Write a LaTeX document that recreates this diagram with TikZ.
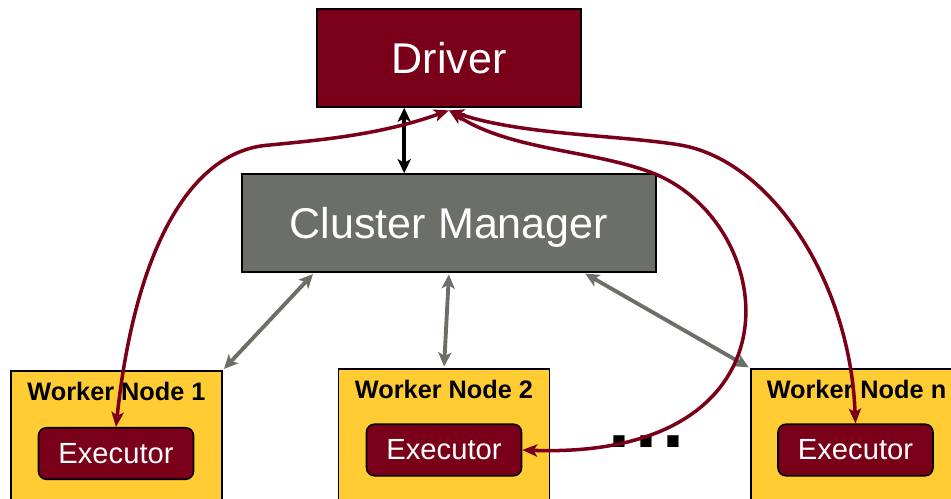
\documentclass[tikz,border=0pt]{standalone}
\usepackage{fontspec}
\setmainfont{Liberation Sans}
\usepackage{tikz}
\usetikzlibrary{arrows.meta,positioning}
\definecolor{umnmaroon}{HTML}{7A0019}
\definecolor{umngold}{HTML}{FFCC33}
\definecolor{slate}{HTML}{6A7067}
\pgfdeclarelayer{edgelayer}
\pgfdeclarelayer{nodelayer}
\pgfsetlayers{nodelayer,edgelayer,main}
\tikzstyle{driverbox}=[rectangle,fill=umnmaroon,draw=black,line width=0.9pt,text=white,font=\fontsize{24.5}{28}\selectfont,minimum width=5.28cm,minimum height=1.96cm]
\tikzstyle{managerbox}=[rectangle,fill=slate,draw=black,line width=0.9pt,text=white,text depth=0pt,font=\fontsize{24.5}{28}\selectfont,minimum width=8.28cm,minimum height=1.96cm]
\tikzstyle{workerbox}=[rectangle,fill=umngold,draw=black,line width=0.9pt,minimum width=4.22cm,minimum height=3.2cm]
\tikzstyle{workertitle}=[inner sep=0pt,font=\bfseries\fontsize{14.4}{17}\selectfont]
\tikzstyle{executor}=[rectangle,rounded corners=4.5pt,fill=umnmaroon,draw=black,line width=0.9pt,text=white,font=\fontsize{16.6}{19}\selectfont,minimum width=3.1cm,minimum height=1.03cm]
\tikzstyle{msgarrow}=[{Stealth[length=8.5pt,width=7pt,inset=2pt]}-{Stealth[length=8.5pt,width=7pt,inset=2pt]},draw=umnmaroon,line width=2pt]
\tikzstyle{ctrlarrow}=[{Stealth[length=8pt,width=7.5pt,inset=2pt]}-{Stealth[length=8pt,width=7.5pt,inset=2pt]},draw=slate,line width=2.2pt,shorten <=1pt,shorten >=1pt]
\tikzstyle{syncarrow}=[{Stealth[length=8pt,width=7.5pt,inset=2pt]}-{Stealth[length=8pt,width=7.5pt,inset=2pt]},draw=black,line width=2pt]
\begin{document}
\begin{tikzpicture}[x=0.02cm,y=-0.02cm]
	\useasboundingbox (0,0) rectangle (951,499);
	\begin{pgfonlayer}{nodelayer}
		\node [style=driverbox] (driver) at (449, 58) {Driver};
		\node [style=managerbox] (cm) at (449, 223) {Cluster Manager};

		\node [style=workerbox] (w1) at (116.5, 451) {};
		\node [style=workerbox] (w2) at (444, 449) {};
		\node [style=workerbox] (wn) at (856.5, 449) {};
		\node [style=workertitle, below=0.24cm of w1.north] (t1) {Worker Node 1};
		\node [style=workertitle, below=0.24cm of w2.north] (t2) {Worker Node 2};
		\node [style=workertitle, below=0.24cm of wn.north] (tn) {Worker Node n};

		\node [style=executor] (e1) at (116, 453.5) {Executor};
		\node [style=executor] (e2) at (444, 450) {Executor};
		\node [style=executor] (en) at (855.5, 450) {Executor};

		\node [font=\bfseries\fontsize{45}{50}\selectfont, inner sep=0pt] (dots) at (646.5, 442) {.\kern2.6pt.\kern2.6pt.};
		\coordinate (hub) at ([yshift=-1.5pt]driver.south);
	\end{pgfonlayer}
	\begin{pgfonlayer}{edgelayer}
		\draw [style=syncarrow] ([xshift=1.76cm]driver.south west) to ([xshift=1.76cm]driver.south west |- cm.north);
		\draw [style=ctrlarrow] (w1.north east) to ([xshift=1.46cm]cm.south west);
		\draw [style=ctrlarrow] (w2.north) to (cm.south);
		\draw [style=ctrlarrow] (wn.north west) to ([xshift=-1.46cm]cm.south east);
		% driver <-> executors
		\draw [style=msgarrow] (hub) .. controls (380,135) and (320,140) .. (270,145)
			.. controls (190,150) and (135,250) .. (e1.north);
		\draw [style=msgarrow] (hub) .. controls (510,150) and (590,150) .. (650,172)
			.. controls (780,220) and (810,460) .. (e2.east);
		\draw [style=msgarrow] (hub) .. controls (520,135) and (620,135) .. (680,145)
			.. controls (770,160) and (850,280) .. (en.north);
	\end{pgfonlayer}
\end{tikzpicture}
\end{document}
